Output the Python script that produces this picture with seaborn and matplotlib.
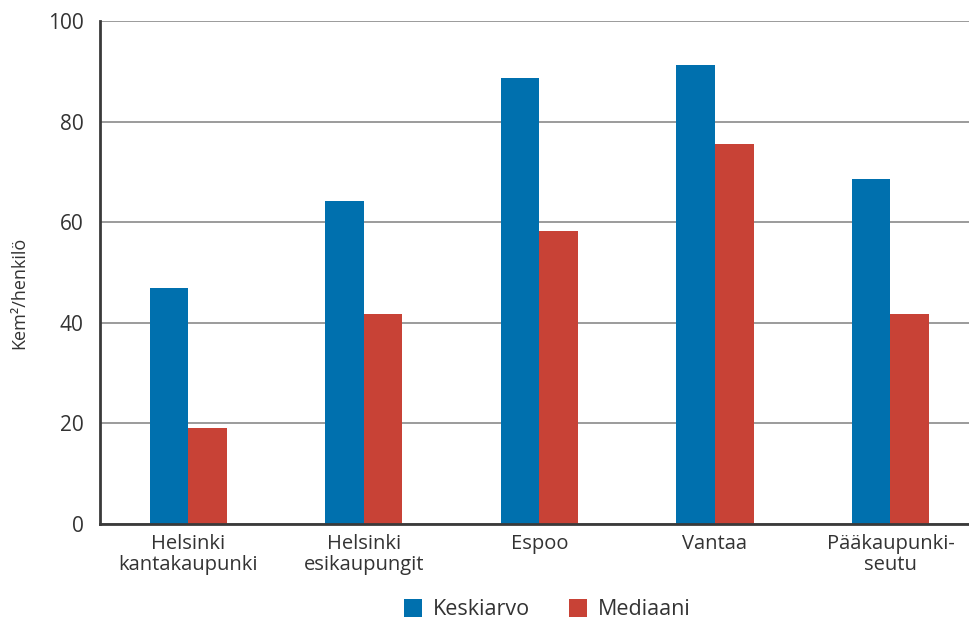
import pandas as pd
import matplotlib.pyplot as plt
import seaborn as sns

# Data
alueet = ["Helsinki\nkantakaupunki", "Helsinki\nesikaupungit", "Espoo", "Vantaa", "Pääkaupunki-\nseutu"]
keskiarvo = [46.9, 64.3, 88.7, 91.3, 68.7]
mediaani = [19.1, 41.7, 58.3, 75.6, 41.7]

df = pd.DataFrame({
    "Alue": alueet * 2,
    "Arvo": keskiarvo + mediaani,
    "Tunnusluku": ["Keskiarvo"] * len(alueet) + ["Mediaani"] * len(alueet),
})

sns.set_style("white")
plt.rcParams["font.family"] = ["Open Sans", "DejaVu Sans"]

fig = plt.figure(figsize=(9.7, 6.23), dpi=100)
ax = fig.add_axes([0.1035, 0.159, 0.905, 0.807])

sns.barplot(data=df, x="Alue", y="Arvo", hue="Tunnusluku",
            palette=["#0070AE", "#C84236"], width=0.44,
            saturation=1, edgecolor="none", ax=ax)

ax.set_ylim(0, 100)
ax.set_yticks([0, 20, 40, 60, 80, 100])
ax.yaxis.grid(True, color="#8a8a8a", linewidth=1.2)
ax.set_axisbelow(True)
ax.set_xlabel("")
ax.set_ylabel("Kem²/henkilö", fontsize=13, color="#333333")
ax.yaxis.set_label_coords(-0.082, 0.46)
ax.tick_params(axis="x", labelsize=14.5, colors="#333333", length=0, pad=7)
ax.tick_params(axis="y", labelsize=15, colors="#333333", length=0, pad=12)
for lbl in ax.get_xticklabels():
    lbl.set_linespacing(1.1)

for side in ["top", "right"]:
    ax.spines[side].set_visible(False)
for side in ["left", "bottom"]:
    ax.spines[side].set_color("#3a3a3a")
    ax.spines[side].set_linewidth(2)

handles, labels = ax.get_legend_handles_labels()
ax.get_legend().remove()
fig.legend(handles, labels, loc="lower center", ncol=2, frameon=False,
           fontsize=15.5, bbox_to_anchor=(0.564, -0.027), handlelength=0.85,
           handleheight=0.85, handletextpad=0.5, columnspacing=1.8,
           labelcolor="#333333")

plt.savefig("out.png", dpi=100)
